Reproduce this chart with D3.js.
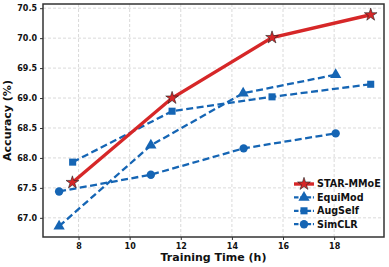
<!DOCTYPE html>
<html>
<head>
<meta charset="utf-8">
<script src="https://cdn.jsdelivr.net/npm/d3@7"></script>
<style>
  body { margin: 0; background: #fff; }
  text { font-family: "DejaVu Sans", sans-serif; font-weight: bold; }
</style>
</head>
<body>
<div id="chart"></div>
<script>
// series data
var starX = [7.76, 11.66, 15.57, 19.43];
var starY = [67.59, 69.0, 70.01, 70.39];
var equiX = [7.24, 10.83, 14.44, 18.06];
var equiY = [66.86, 68.21, 69.08, 69.39];
var augX = [7.77, 11.66, 15.57, 19.43];
var augY = [67.93, 68.78, 69.02, 69.23];
var simX = [7.24, 10.83, 14.46, 18.06];
var simY = [67.44, 67.72, 68.16, 68.41];
var xTicks = [8, 10, 12, 14, 16, 18];
var yTicks = [67.0, 67.5, 68.0, 68.5, 69.0, 69.5, 70.0, 70.5];
var names = ["STAR-MMoE", "EquiMod", "AugSelf", "SimCLR"];

var red = "#d62728", blue = "#1565b4";

var W = 389, H = 267;
var margin = {top: 4, right: 5, bottom: 30, left: 43};
var width = W - margin.left - margin.right,
    height = H - margin.top - margin.bottom;

var svg = d3.select("#chart").append("svg")
    .attr("width", W)
    .attr("height", H);
var g = svg.append("g")
    .attr("transform", "translate(" + margin.left + "," + margin.top + ")");

var x = d3.scaleLinear().domain([6.61, 19.95]).range([0, width]);
var y = d3.scaleLinear().domain([66.68, 70.57]).range([height, 0]);

// grid
g.append("g").selectAll("line").data(xTicks).enter().append("line")
    .attr("x1", function(d) { return x(d); }).attr("x2", function(d) { return x(d); })
    .attr("y1", 0).attr("y2", height)
    .attr("stroke", "#d0d0d0").attr("stroke-width", 0.8).attr("stroke-dasharray", "3,2");
g.append("g").selectAll("line").data(yTicks).enter().append("line")
    .attr("y1", function(d) { return y(d); }).attr("y2", function(d) { return y(d); })
    .attr("x1", 0).attr("x2", width)
    .attr("stroke", "#d0d0d0").attr("stroke-width", 0.8).attr("stroke-dasharray", "3,2");

// axes
var xAxis = g.append("g")
    .attr("transform", "translate(0," + height + ")")
    .call(d3.axisBottom(x).tickValues(xTicks).tickSize(3).tickPadding(3).tickFormat(d3.format("d")));
var yAxis = g.append("g")
    .call(d3.axisLeft(y).tickValues(yTicks).tickSize(3).tickPadding(3).tickFormat(d3.format(".1f")));
[xAxis, yAxis].forEach(function(a) {
  a.select(".domain").remove();
  a.selectAll("text").style("font-size", "8px").attr("fill", "#111");
  a.selectAll("line").attr("stroke", "#333");
});

var series = [
  {name: names[0], xs: starX, ys: starY, color: red, dash: null, width: 3.4, marker: d3.symbolStar, size: 50},
  {name: names[1], xs: equiX, ys: equiY, color: blue, dash: "7,3.5", width: 2.3, marker: d3.symbolTriangle, size: 55},
  {name: names[2], xs: augX, ys: augY, color: blue, dash: "7,3.5", width: 2.3, marker: d3.symbolSquare, size: 50},
  {name: names[3], xs: simX, ys: simY, color: blue, dash: "7,3.5", width: 2.3, marker: d3.symbolCircle, size: 55}
];

var line = d3.line().x(function(d) { return x(d[0]); }).y(function(d) { return y(d[1]); });

series.slice().reverse().forEach(function(s) {
  var pts = s.xs.map(function(v, i) { return [v, s.ys[i]]; });
  g.append("path").datum(pts)
    .attr("d", line)
    .attr("fill", "none")
    .attr("stroke", s.color)
    .attr("stroke-width", s.width)
    .attr("stroke-dasharray", s.dash);
  g.selectAll(null).data(pts).enter().append("path")
    .attr("transform", function(d) { return "translate(" + x(d[0]) + "," + y(d[1]) + ")"; })
    .attr("d", d3.symbol().type(s.marker).size(s.size))
    .attr("fill", s.color)
    .attr("stroke", s.marker === d3.symbolStar ? "#222" : "none")
    .attr("stroke-width", 0.6);
});

// frame
g.append("rect")
    .attr("width", width).attr("height", height)
    .attr("fill", "none").attr("stroke", "#333").attr("stroke-width", 1.5);

// legend
var leg = g.append("g").attr("transform", "translate(" + (294 - margin.left) + "," + (184 - margin.top) + ")");
series.forEach(function(s, i) {
  var r = leg.append("g").attr("transform", "translate(0," + (i * 13.4) + ")");
  r.append("line").attr("x1", 0).attr("x2", 20).attr("y1", 0).attr("y2", 0)
    .attr("stroke", s.color).attr("stroke-width", s.width)
    .attr("stroke-dasharray", s.dash ? "4.5,1.8" : null);
  r.append("path").attr("transform", "translate(10,0)")
    .attr("d", d3.symbol().type(s.marker).size(s.size))
    .attr("fill", s.color)
    .attr("stroke", s.marker === d3.symbolStar ? "#222" : "none")
    .attr("stroke-width", 0.6);
  r.append("text").attr("x", 23).attr("y", 0).attr("dy", "0.35em")
    .style("font-size", "9.6px").attr("fill", "#111").text(s.name);
});

// axis labels
svg.append("text")
    .attr("x", margin.left + width / 2).attr("y", 261)
    .attr("text-anchor", "middle").style("font-size", "11px").attr("fill", "#111")
    .text("Training Time (h)");
svg.append("text")
    .attr("transform", "translate(11," + (margin.top + height / 2) + ") rotate(-90)")
    .attr("text-anchor", "middle").style("font-size", "11px").attr("fill", "#111")
    .text("Accuracy (%)");
</script>
</body>
</html>
